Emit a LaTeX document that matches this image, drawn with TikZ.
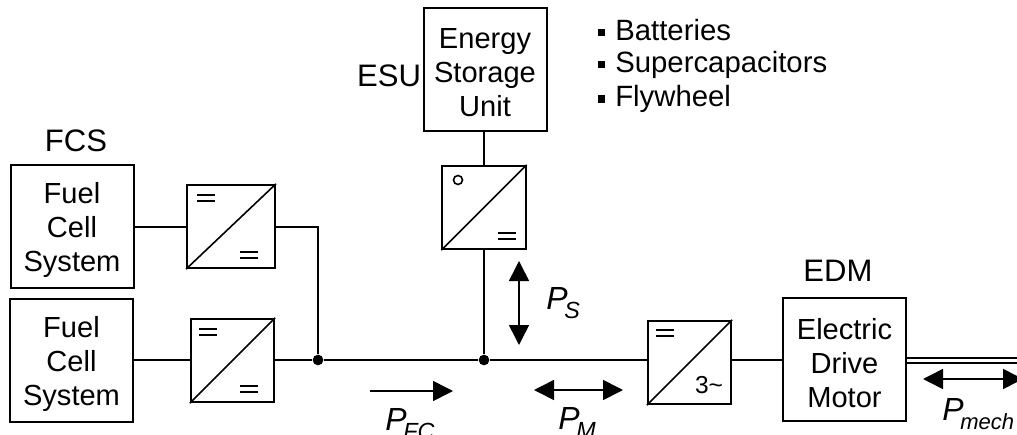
\documentclass[tikz,border=0pt]{standalone}
\usepackage{fontspec}
\setmainfont{Liberation Sans}
\usetikzlibrary{arrows.meta}
\tikzset{
 wire/.style={line width=1.5pt},
 boxn/.style={draw,line width=1.5pt,minimum width=92.25pt,minimum height=92.25pt,inner sep=0pt},
 boxt/.style={inner sep=0pt,align=center,yshift=-2.5pt,font=\fontsize{21.8}{25.5}\selectfont},
 conv/.style={draw,line width=1.5pt,minimum width=62.5pt,minimum height=62.5pt,inner sep=0pt},
 diag/.style={line width=1.2pt},
 eqs/.style={line width=1.2pt},
 lab/.style={inner sep=0pt,font=\fontsize{23.3}{26}\selectfont},
 plab/.style={inner sep=0pt,font=\fontsize{24}{28}\selectfont\itshape},
 dot/.style={circle,fill=black,inner sep=0pt,minimum size=8pt},
 pa/.style={line width=1.2pt,-{Triangle[length=15pt,width=15pt]}},
 pd/.style={line width=1.2pt,{Triangle[length=15pt,width=15pt]}-{Triangle[length=15pt,width=15pt]}},
}
\newcommand{\eqsign}[2]{\draw[eqs] (#1-9,#2-3)--(#1+9,#2-3) (#1-9,#2+3)--(#1+9,#2+3);}
\newcommand{\psub}[1]{\kern-2.5pt\raisebox{-6.75pt}{\fontsize{17.5}{20}\selectfont #1}}
\begin{document}
\begin{tikzpicture}[x=0.75pt,y=-0.75pt]
\useasboundingbox (0,0) rectangle (1017,435);
\clip (0,0) rectangle (1017,435);
% coordinates
\node[dot] (ja) at (318,360) {};
\node[dot] (jb) at (484,360) {};
\coordinate (top) at (318,226.5);
\coordinate (s1) at (1017,358);
\coordinate (s2) at (1017,363);
% boxes
\node[boxn] (fa) at (72,226) {};
\node[boxn] (fb) at (71.5,360) {};
\node[boxn] (esu) at (485,69.5) {};
\node[boxn] (edm) at (844.5,359.5) {};
\node[boxt,yshift=-0.75pt] (tfa) at (fa) {Fuel\\Cell\\System};
\node[boxt,yshift=-0.75pt] (tfb) at (fb) {Fuel\\Cell\\System};
\node[boxt] (tes) at (esu) {Energy\\Storage\\Unit};
\node[boxt] (ted) at (edm) {Electric\\Drive\\Motor};
\node[conv,minimum width=66pt] (ca) at (231,226.5) {};
\node[conv] (cb) at (232.5,360.5) {};
\node[conv] (ce) at (484,207.5) {};
\node[conv] (cm) at (689.5,362.5) {};
\foreach \c in {ca,cb,ce,cm}{\draw[diag] (\c.south west)--(\c.north east);}
% signs
\eqsign{206}{198}\eqsign{249}{255}
\eqsign{208}{332}\eqsign{249}{389}
\eqsign{507}{236}
\eqsign{665}{333}
\draw[eqs] (458,180) circle (4.5);
\node[inner sep=0pt,anchor=base,font=\fontsize{18.4}{20}\selectfont] (ac) at (709,393) {3\textasciitilde};
% wires
\draw[wire] (fa.east |- ca.west)--(ca.west);
\draw[wire] (fb.east |- ja)--(cb.west |- ja);
\draw[wire] (ca.east)--(top)--(ja);
\draw[wire] (cb.east |- ja)--(ja)--(jb)--(cm.west |- jb);
\draw[wire] (cm.east |- jb)--(edm.west |- jb);
\draw[wire] (ce.north)--(ce.north |- esu.south);
\draw[wire] (ce.south)--(jb);
\draw[line width=1.2pt] (edm.east |- s1)--(s1) (edm.east |- s2)--(s2);
% power arrows
\coordinate (a1) at (370,391); \coordinate (a2) at (453,391);
\coordinate (b1) at (534,390); \coordinate (b2) at (623,390);
\coordinate (c1) at (519,261); \coordinate (c2) at (519,345);
\coordinate (d1) at (923,379); \coordinate (d2) at (1023,379);
\draw[pa] (a1)--(a2);
\draw[pd] (b1)--(b2);
\draw[pd] (c1)--(c2);
\draw[pd] (d1)--(d2);
% labels
\node[lab,anchor=base] (tf) at (76,151) {FCS};
\node[lab,anchor=base] (te) at (389,86) {ESU};
\node[lab,anchor=base] (tm) at (838,281) {EDM};
\node[plab,anchor=base west] (pfc) at (385,430) {P\psub{FC}};
\node[plab,anchor=base west] (pm) at (558,429) {P\psub{M}};
\node[plab,anchor=base west] (ps) at (546,309) {P\psub{S}};
\node[plab,anchor=base west] (pme) at (942,420) {P\kern-2.5pt\raisebox{-6.75pt}{\fontsize{16.5}{20}\selectfont mech}};
\foreach \y/\t [count=\i] in {41/Batteries,73/Supercapacitors,107/Flywheel}{
 \fill (598,\y-11.5) rectangle (605,\y-4.5);
 \node[inner sep=0pt,anchor=base west,font=\fontsize{22}{24}\selectfont] (l\i) at (615,\y) {\t};
}
\end{tikzpicture}
\end{document}
